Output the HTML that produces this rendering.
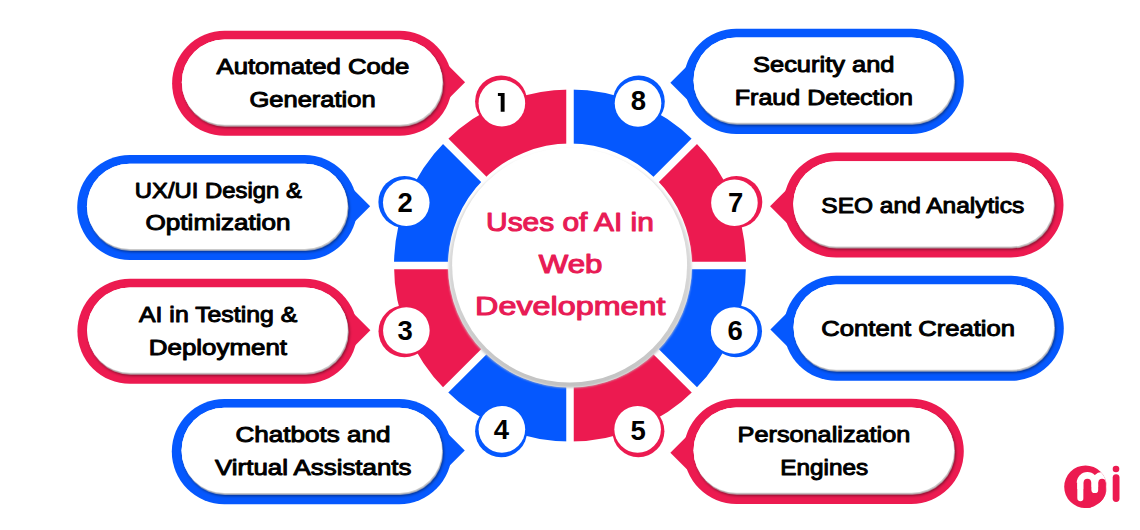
<!DOCTYPE html>
<html><head><meta charset="utf-8"><style>
html,body{margin:0;padding:0;background:#fff;width:1140px;height:530px;overflow:hidden}
svg{display:block}
.t{font-family:"Liberation Sans",sans-serif;font-weight:bold}
.r{font-family:"Liberation Sans",sans-serif;font-weight:normal}
</style></head><body>
<svg width="1140" height="530" viewBox="0 0 1140 530">
<defs><linearGradient id="gg" x1="0" y1="0" x2="0" y2="1"><stop offset="0" stop-color="#e6e6e6"/><stop offset="0.5" stop-color="#d8d8d8"/><stop offset="1" stop-color="#c2c2c2"/></linearGradient><filter id="bl" x="-5%" y="-5%" width="110%" height="110%"><feGaussianBlur stdDeviation="1.2"/></filter><filter id="sh" x="-10%" y="-20%" width="120%" height="150%"><feDropShadow dx="1.6" dy="2.8" stdDeviation="1.7" flood-color="#000" flood-opacity="0.5"/></filter><filter id="sh2" x="-10%" y="-20%" width="120%" height="150%"><feDropShadow dx="0.8" dy="1.7" stdDeviation="0.6" flood-color="#cacaca" flood-opacity="1"/></filter></defs>
<path d="M570.00,89.60 A176.0,176.0 0 0 1 694.45,141.15 L656.27,179.33 A122.0,122.0 0 0 0 570.00,143.60 Z" fill="#0558FE"/>
<path d="M694.45,141.15 A176.0,176.0 0 0 1 746.00,265.60 L692.00,265.60 A122.0,122.0 0 0 0 656.27,179.33 Z" fill="#EC1A50"/>
<path d="M746.00,265.60 A176.0,176.0 0 0 1 694.45,390.05 L656.27,351.87 A122.0,122.0 0 0 0 692.00,265.60 Z" fill="#0558FE"/>
<path d="M694.45,390.05 A176.0,176.0 0 0 1 570.00,441.60 L570.00,387.60 A122.0,122.0 0 0 0 656.27,351.87 Z" fill="#EC1A50"/>
<path d="M570.00,441.60 A176.0,176.0 0 0 1 445.55,390.05 L483.73,351.87 A122.0,122.0 0 0 0 570.00,387.60 Z" fill="#0558FE"/>
<path d="M445.55,390.05 A176.0,176.0 0 0 1 394.00,265.60 L448.00,265.60 A122.0,122.0 0 0 0 483.73,351.87 Z" fill="#EC1A50"/>
<path d="M394.00,265.60 A176.0,176.0 0 0 1 445.55,141.15 L483.73,179.33 A122.0,122.0 0 0 0 448.00,265.60 Z" fill="#0558FE"/>
<path d="M445.55,141.15 A176.0,176.0 0 0 1 570.00,89.60 L570.00,143.60 A122.0,122.0 0 0 0 483.73,179.33 Z" fill="#EC1A50"/>
<line x1="570.00" y1="165.60" x2="570.00" y2="75.60" stroke="#fff" stroke-width="7.5"/>
<line x1="640.71" y1="194.89" x2="704.35" y2="131.25" stroke="#fff" stroke-width="7.5"/>
<line x1="670.00" y1="265.60" x2="760.00" y2="265.60" stroke="#fff" stroke-width="7.5"/>
<line x1="640.71" y1="336.31" x2="704.35" y2="399.95" stroke="#fff" stroke-width="7.5"/>
<line x1="570.00" y1="365.60" x2="570.00" y2="455.60" stroke="#fff" stroke-width="7.5"/>
<line x1="499.29" y1="336.31" x2="435.65" y2="399.95" stroke="#fff" stroke-width="7.5"/>
<line x1="470.00" y1="265.60" x2="380.00" y2="265.60" stroke="#fff" stroke-width="7.5"/>
<line x1="499.29" y1="194.89" x2="435.65" y2="131.25" stroke="#fff" stroke-width="7.5"/>
<ellipse cx="570" cy="268.3" rx="121.6" ry="119.4" fill="url(#gg)" filter="url(#bl)"/>
<circle cx="569.6" cy="265.15" r="117.45" fill="#fff"/>
<text x="486.1" y="230.5" textLength="167.8" lengthAdjust="spacingAndGlyphs" font-size="26.6" fill="#E81B55" stroke="#E81B55" stroke-width="1.1" stroke-linejoin="round" class="r">Uses of AI in</text>
<text x="538.8" y="273.0" textLength="63.7" lengthAdjust="spacingAndGlyphs" font-size="26.6" fill="#E81B55" stroke="#E81B55" stroke-width="1.1" stroke-linejoin="round" class="r">Web</text>
<text x="475.1" y="314.5" textLength="190.4" lengthAdjust="spacingAndGlyphs" font-size="26.6" fill="#E81B55" stroke="#E81B55" stroke-width="1.1" stroke-linejoin="round" class="r">Development</text>
<circle cx="501.1" cy="101.4" r="26" fill="#EC1A50"/>
<circle cx="501.87" cy="103.25" r="23.3" fill="#fff"/>
<path d="M497.9,93 H504.6 V111.8 H500.7 V96.1 H497.9 Z" fill="#000"/>
<circle cx="404.4" cy="201.9" r="26" fill="#0558FE"/>
<circle cx="406.26" cy="202.62" r="23.3" fill="#fff"/>
<text x="405.15" y="211.99" text-anchor="middle" font-size="27.5" fill="#000" class="t">2</text>
<circle cx="404.5" cy="331.3" r="26" fill="#EC1A50"/>
<circle cx="406.36" cy="330.57" r="23.3" fill="#fff"/>
<text x="405.24" y="340.31" text-anchor="middle" font-size="27.5" fill="#000" class="t">3</text>
<circle cx="501.1" cy="431.2" r="26" fill="#0558FE"/>
<circle cx="501.87" cy="429.35" r="23.3" fill="#fff"/>
<text x="501.41" y="438.96" text-anchor="middle" font-size="27.5" fill="#000" class="t">4</text>
<circle cx="638.4" cy="431.2" r="26" fill="#EC1A50"/>
<circle cx="637.63" cy="429.35" r="23.3" fill="#fff"/>
<text x="638.09" y="439.56" text-anchor="middle" font-size="27.5" fill="#000" class="t">5</text>
<circle cx="736.0" cy="331.3" r="26" fill="#0558FE"/>
<circle cx="734.14" cy="330.57" r="23.3" fill="#fff"/>
<text x="735.26" y="340.01" text-anchor="middle" font-size="27.5" fill="#000" class="t">6</text>
<circle cx="736.3" cy="202.0" r="26" fill="#EC1A50"/>
<circle cx="734.43" cy="202.72" r="23.3" fill="#fff"/>
<text x="735.55" y="212.19" text-anchor="middle" font-size="27.5" fill="#000" class="t">7</text>
<circle cx="638.8" cy="101.5" r="26" fill="#0558FE"/>
<circle cx="638.03" cy="103.35" r="23.3" fill="#fff"/>
<text x="638.49" y="110.34" text-anchor="middle" font-size="27.5" fill="#000" class="t">8</text>
<path d="M224.65,30.75 H399.55 A52.55,52.55 0 0 1 399.55,135.85 H224.65 A52.55,52.55 0 0 1 224.65,30.75 Z" fill="#EC1A50"/>
<path d="M465.05,82.20 L425.05,42.20 L425.05,122.20 Z" fill="#EC1A50"/>
<rect x="181.85" y="39.55" width="260.50" height="85.20" rx="42.60" fill="#fff" filter="url(#sh)"/>
<rect x="181.85" y="39.55" width="260.50" height="85.20" rx="42.60" fill="#fff" filter="url(#sh2)"/>
<text x="216.5" y="73.80" textLength="192.9" lengthAdjust="spacingAndGlyphs" font-size="22.5" fill="#000" stroke="#000" stroke-width="1.0" stroke-linejoin="round" class="r">Automated Code</text>
<text x="249.4" y="106.60" textLength="126.3" lengthAdjust="spacingAndGlyphs" font-size="22.5" fill="#000" stroke="#000" stroke-width="1.0" stroke-linejoin="round" class="r">Generation</text>
<path d="M129.75,154.90 H304.65 A52.55,52.55 0 0 1 304.65,260.00 H129.75 A52.55,52.55 0 0 1 129.75,154.90 Z" fill="#0558FE"/>
<path d="M370.15,206.35 L330.15,166.35 L330.15,246.35 Z" fill="#0558FE"/>
<rect x="86.95" y="163.70" width="260.50" height="85.20" rx="42.60" fill="#fff" filter="url(#sh)"/>
<rect x="86.95" y="163.70" width="260.50" height="85.20" rx="42.60" fill="#fff" filter="url(#sh2)"/>
<text x="134.8" y="197.60" textLength="167.0" lengthAdjust="spacingAndGlyphs" font-size="22.5" fill="#000" stroke="#000" stroke-width="1.0" stroke-linejoin="round" class="r">UX/UI Design &</text>
<text x="145.5" y="230.40" textLength="145.1" lengthAdjust="spacingAndGlyphs" font-size="22.5" fill="#000" stroke="#000" stroke-width="1.0" stroke-linejoin="round" class="r">Optimization</text>
<path d="M129.95,278.75 H304.85 A52.55,52.55 0 0 1 304.85,383.85 H129.95 A52.55,52.55 0 0 1 129.95,278.75 Z" fill="#EC1A50"/>
<path d="M370.35,330.20 L330.35,290.20 L330.35,370.20 Z" fill="#EC1A50"/>
<rect x="87.15" y="287.55" width="260.50" height="85.20" rx="42.60" fill="#fff" filter="url(#sh)"/>
<rect x="87.15" y="287.55" width="260.50" height="85.20" rx="42.60" fill="#fff" filter="url(#sh2)"/>
<text x="139.0" y="321.80" textLength="158.3" lengthAdjust="spacingAndGlyphs" font-size="22.5" fill="#000" stroke="#000" stroke-width="1.0" stroke-linejoin="round" class="r">AI in Testing &</text>
<text x="148.8" y="354.60" textLength="138.2" lengthAdjust="spacingAndGlyphs" font-size="22.5" fill="#000" stroke="#000" stroke-width="1.0" stroke-linejoin="round" class="r">Deployment</text>
<path d="M224.35,399.05 H399.25 A52.55,52.55 0 0 1 399.25,504.15 H224.35 A52.55,52.55 0 0 1 224.35,399.05 Z" fill="#0558FE"/>
<path d="M464.75,450.50 L424.75,410.50 L424.75,490.50 Z" fill="#0558FE"/>
<rect x="181.55" y="407.85" width="260.50" height="85.20" rx="42.60" fill="#fff" filter="url(#sh)"/>
<rect x="181.55" y="407.85" width="260.50" height="85.20" rx="42.60" fill="#fff" filter="url(#sh2)"/>
<text x="235.4" y="441.70" textLength="155.2" lengthAdjust="spacingAndGlyphs" font-size="22.5" fill="#000" stroke="#000" stroke-width="1.0" stroke-linejoin="round" class="r">Chatbots and</text>
<text x="215.1" y="474.50" textLength="196.3" lengthAdjust="spacingAndGlyphs" font-size="22.5" fill="#000" stroke="#000" stroke-width="1.0" stroke-linejoin="round" class="r">Virtual Assistants</text>
<path d="M736.35,28.80 H911.25 A52.55,52.55 0 0 1 911.25,133.90 H736.35 A52.55,52.55 0 0 1 736.35,28.80 Z" fill="#0558FE"/>
<path d="M670.35,82.65 L710.35,42.65 L710.35,122.65 Z" fill="#0558FE"/>
<rect x="693.55" y="37.60" width="260.50" height="85.20" rx="42.60" fill="#fff" filter="url(#sh)"/>
<rect x="693.55" y="37.60" width="260.50" height="85.20" rx="42.60" fill="#fff" filter="url(#sh2)"/>
<text x="753.0" y="71.80" textLength="141.5" lengthAdjust="spacingAndGlyphs" font-size="22.5" fill="#000" stroke="#000" stroke-width="1.0" stroke-linejoin="round" class="r">Security and</text>
<text x="734.8" y="104.80" textLength="178.2" lengthAdjust="spacingAndGlyphs" font-size="22.5" fill="#000" stroke="#000" stroke-width="1.0" stroke-linejoin="round" class="r">Fraud Detection</text>
<path d="M836.05,152.45 H1010.95 A52.55,52.55 0 0 1 1010.95,257.55 H836.05 A52.55,52.55 0 0 1 836.05,152.45 Z" fill="#EC1A50"/>
<path d="M770.05,206.30 L810.05,166.30 L810.05,246.30 Z" fill="#EC1A50"/>
<rect x="793.25" y="161.25" width="260.50" height="85.20" rx="42.60" fill="#fff" filter="url(#sh)"/>
<rect x="793.25" y="161.25" width="260.50" height="85.20" rx="42.60" fill="#fff" filter="url(#sh2)"/>
<text x="821.3" y="212.90" textLength="203.0" lengthAdjust="spacingAndGlyphs" font-size="22.5" fill="#000" stroke="#000" stroke-width="1.0" stroke-linejoin="round" class="r">SEO and Analytics</text>
<path d="M836.35,275.75 H1011.25 A52.55,52.55 0 0 1 1011.25,380.85 H836.35 A52.55,52.55 0 0 1 836.35,275.75 Z" fill="#0558FE"/>
<path d="M770.35,329.60 L810.35,289.60 L810.35,369.60 Z" fill="#0558FE"/>
<rect x="793.55" y="284.55" width="260.50" height="85.20" rx="42.60" fill="#fff" filter="url(#sh)"/>
<rect x="793.55" y="284.55" width="260.50" height="85.20" rx="42.60" fill="#fff" filter="url(#sh2)"/>
<text x="821.3" y="335.60" textLength="193.7" lengthAdjust="spacingAndGlyphs" font-size="22.5" fill="#000" stroke="#000" stroke-width="1.0" stroke-linejoin="round" class="r">Content Creation</text>
<path d="M736.35,398.80 H911.25 A52.55,52.55 0 0 1 911.25,503.90 H736.35 A52.55,52.55 0 0 1 736.35,398.80 Z" fill="#EC1A50"/>
<path d="M670.35,452.65 L710.35,412.65 L710.35,492.65 Z" fill="#EC1A50"/>
<rect x="693.55" y="407.60" width="260.50" height="85.20" rx="42.60" fill="#fff" filter="url(#sh)"/>
<rect x="693.55" y="407.60" width="260.50" height="85.20" rx="42.60" fill="#fff" filter="url(#sh2)"/>
<text x="737.6" y="441.80" textLength="172.7" lengthAdjust="spacingAndGlyphs" font-size="22.5" fill="#000" stroke="#000" stroke-width="1.0" stroke-linejoin="round" class="r">Personalization</text>
<text x="780.3" y="474.60" textLength="87.9" lengthAdjust="spacingAndGlyphs" font-size="22.5" fill="#000" stroke="#000" stroke-width="1.0" stroke-linejoin="round" class="r">Engines</text>
<g>
<clipPath id="lc"><circle cx="1085.5" cy="486.8" r="21.3"/></clipPath>
<circle cx="1085.5" cy="486.8" r="21.3" fill="#EC1A50"/>
<g clip-path="url(#lc)">
<path d="M1076.7,482.7 A10.7,10.7 0 0 1 1098.1,482.7 Z" fill="#fff"/>
<path d="M1091.45,482.6 A10.55,10.55 0 0 1 1112.55,482.6 Z" fill="#fff"/>
<rect x="1077.3" y="481" width="6.3" height="20.2" rx="3.15" fill="#fff"/>
<rect x="1077.3" y="481" width="6.3" height="8" fill="#fff"/>
<rect x="1091.2" y="481" width="7.2" height="12" rx="3.6" fill="#fff"/>
<rect x="1091.2" y="481" width="7.2" height="6" fill="#fff"/>
<rect x="1105.7" y="481" width="8" height="30" fill="#fff"/>
<rect x="1083.6" y="478.8" width="7.6" height="35" rx="3.8" fill="#EC1A50"/>
<rect x="1098.4" y="478.85" width="7.3" height="35" rx="3.65" fill="#EC1A50"/>
</g>
<circle cx="1116" cy="469" r="3.3" fill="#EC1A50"/>
<rect x="1112.7" y="474.2" width="6.8" height="27.8" rx="3.4" fill="#EC1A50"/>
</g>
</svg>
</body></html>
